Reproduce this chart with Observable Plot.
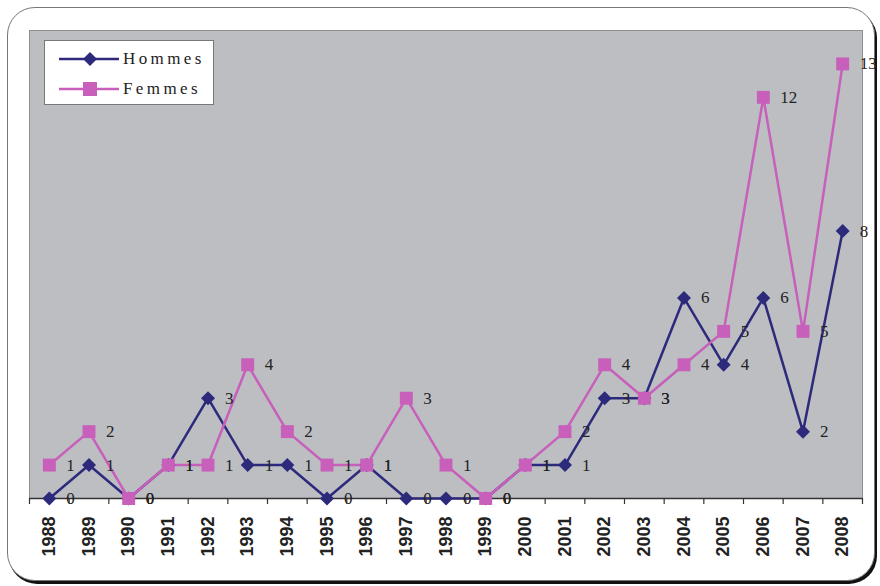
<!DOCTYPE html>
<html>
<head>
<meta charset="utf-8">
<script src="https://cdn.jsdelivr.net/npm/d3@7"></script>
<script src="https://cdn.jsdelivr.net/npm/@observablehq/plot@0.6"></script>
<style>
  html, body { margin: 0; padding: 0; background: #fff; }
  #wrap { position: relative; width: 880px; height: 586px; overflow: hidden; }
  #frame { position: absolute; left: 7px; top: 7px; width: 866px; height: 572px;
           border: 1.5px solid #777; border-radius: 28px; box-shadow: 2px 3px 0 #111; background: #fff; }
  #chart { position: absolute; left: 0; top: 0; }
  #legend { position: absolute; left: 44px; top: 40px; width: 170px; height: 65px;
            background: #fff; border: 1.5px solid #777; box-sizing: border-box; }
  .li { position: absolute; left: 14px; height: 20px; display: flex; align-items: center; }
  .li span { font-family: "Liberation Serif", "DejaVu Serif", serif; font-size: 17px;
             letter-spacing: 3.4px; color: #222; margin-left: 4px; }
  svg text.lbl { font-family: "Liberation Serif", "DejaVu Serif", serif; }
</style>
</head>
<body>
<div id="wrap">
  <div id="frame"></div>
  <div id="chart"></div>
  <div id="legend"></div>
</div>
<script>
const years  = [1988,1989,1990,1991,1992,1993,1994,1995,1996,1997,1998,1999,2000,2001,2002,2003,2004,2005,2006,2007,2008];
const hommes = [0,1,0,1,3,1,1,0,1,0,0,0,1,1,3,3,6,4,6,2,8];
const femmes = [1,2,0,1,1,4,2,1,1,3,1,0,1,2,4,3,4,5,12,5,13];
const seriesNames = ["Hommes", "Femmes"];
const seriesColors = ["#2d2a7c", "#c75fbb"];

const hRows = years.map((y, i) => ({year: y, value: hommes[i], serie: "Hommes"}));
const fRows = years.map((y, i) => ({year: y, value: femmes[i], serie: "Femmes"}));
const boundaries = years.map(y => y - 0.5).concat([years[years.length - 1] + 0.5]);
const serif = "Liberation Serif, DejaVu Serif, serif";

const chart = Plot.plot({
  width: 880,
  height: 586,
  marginLeft: 29,
  marginRight: 18,
  marginTop: 30,
  marginBottom: 88,
  style: {background: "transparent", overflow: "visible"},
  x: {type: "linear", domain: [boundaries[0], boundaries[boundaries.length - 1]], label: null},
  y: {domain: [0, 14], axis: null, label: null},
  marks: [
    Plot.frame({fill: "#bdbec2", stroke: "#8e8e8e"}),
    Plot.ruleY([0], {stroke: "#333", strokeWidth: 1.5}),
    Plot.axisX(boundaries, {tickSize: 6, tickFormat: () => "", label: null, stroke: "#333", strokeWidth: 1.2}),
    Plot.axisX(years, {tickSize: 0, tickPadding: 18, tickRotate: -90, tickFormat: d => String(d), label: null,
      fontFamily: "Liberation Sans, Arial, sans-serif", fontSize: 18, fontWeight: "bold", fill: "#222"}),
    Plot.line(hRows, {x: "year", y: "value", stroke: seriesColors[0], strokeWidth: 2.5}),
    Plot.line(fRows, {x: "year", y: "value", stroke: seriesColors[1], strokeWidth: 2.5}),
    Plot.text(hRows, {x: "year", y: "value", text: "value", dx: 17, textAnchor: "start",
      fontFamily: serif, fontSize: 17, fill: "#222", className: "lbl"}),
    Plot.text(fRows, {x: "year", y: "value", text: "value", dx: 17, textAnchor: "start",
      fontFamily: serif, fontSize: 17, fill: "#222", className: "lbl"}),
    Plot.dot(hRows, {x: "year", y: "value", symbol: "diamond2", r: 6.3, fill: seriesColors[0], stroke: "none"}),
    Plot.dot(fRows, {x: "year", y: "value", symbol: "square", r: 7.3, fill: seriesColors[1], stroke: "none"})
  ]
});
document.getElementById("chart").appendChild(chart);

// legend
const legend = document.getElementById("legend");
const symbols = [
  '<polygon points="31,2 38,9 31,16 24,9" fill="' + seriesColors[0] + '"/>',
  '<rect x="24" y="2" width="14" height="14" fill="' + seriesColors[1] + '"/>'
];
seriesNames.forEach((name, i) => {
  const d = document.createElement("div");
  d.className = "li";
  d.style.top = (8 + i * 30) + "px";
  d.innerHTML = '<svg width="60" height="18"><line x1="0" y1="9" x2="60" y2="9" stroke="' + seriesColors[i] + '" stroke-width="2.5"/>' + symbols[i] + '</svg><span>' + name + '</span>';
  legend.appendChild(d);
});
</script>
</body>
</html>
